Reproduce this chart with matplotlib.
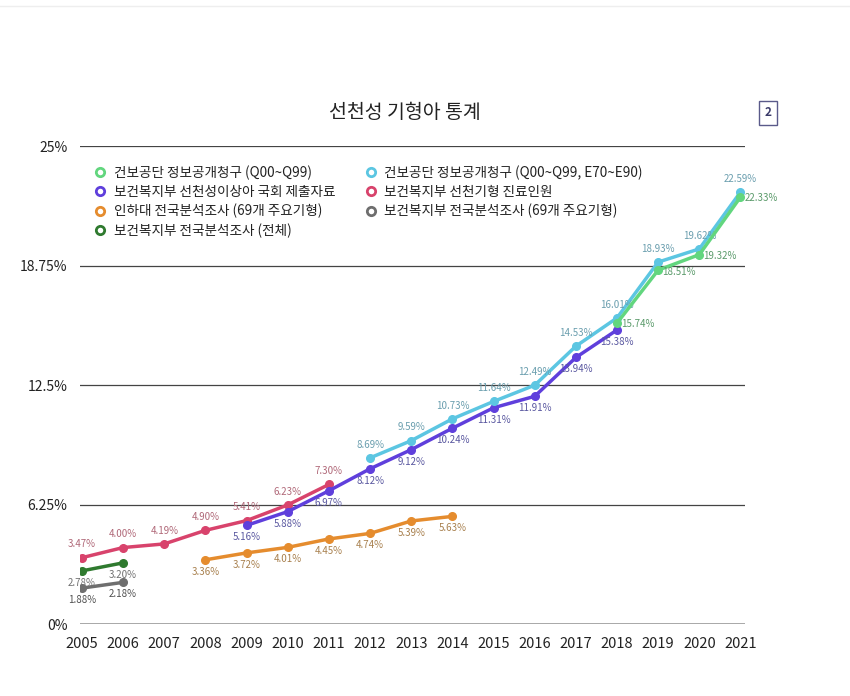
import matplotlib
matplotlib.use("Agg")
import matplotlib.pyplot as plt
from matplotlib.lines import Line2D

plt.rcParams['font.family'] = ['Noto Sans CJK KR', 'DejaVu Sans']

# series data (percent)
green_years = [2018, 2019, 2020, 2021]
green_vals = [15.74, 18.51, 19.32, 22.33]

cyan_years = list(range(2012, 2022))
cyan_vals = [8.69, 9.59, 10.73, 11.64, 12.49, 14.53, 16.01, 18.93, 19.62, 22.59]

purple_years = list(range(2009, 2019))
purple_vals = [5.16, 5.88, 6.97, 8.12, 9.12, 10.24, 11.31, 11.91, 13.94, 15.38]

red_years = list(range(2005, 2012))
red_vals = [3.47, 4.00, 4.19, 4.90, 5.41, 6.23, 7.30]

orange_years = list(range(2008, 2015))
orange_vals = [3.36, 3.72, 4.01, 4.45, 4.74, 5.39, 5.63]

gray_years = [2005, 2006]
gray_vals = [1.88, 2.18]

dkgreen_years = [2005, 2006]
dkgreen_vals = [2.78, 3.20]

names = [
    "건보공단 정보공개청구 (Q00~Q99)",
    "건보공단 정보공개청구 (Q00~Q99, E70~E90)",
    "보건복지부 선천성이상아 국회 제출자료",
    "보건복지부 선천기형 진료인원",
    "인하대 전국분석조사 (69개 주요기형)",
    "보건복지부 전국분석조사 (69개 주요기형)",
    "보건복지부 전국분석조사 (전체)",
]

fig = plt.figure(figsize=(8.5, 6.96), dpi=100)
ax = fig.add_axes([0.094, 0.1034, 0.782, 0.6868])

# (years, values, line color, label color, label position)
series = [
    (red_years, red_vals, "#d8436c", "#b06878", "above"),
    (orange_years, orange_vals, "#e58c2e", "#a8804e", "below"),
    (gray_years, gray_vals, "#6e6e6e", "#505050", "below"),
    (dkgreen_years, dkgreen_vals, "#2f7a2f", "#707070", "below"),
    (purple_years, purple_vals, "#5f3fdc", "#5a58a0", "below"),
    (cyan_years, cyan_vals, "#5cc6e2", "#6a9eae", "above"),
    (green_years, green_vals, "#62d67e", "#5a9a6a", "right"),
]

for ys, vs, c, tc, pos in series:
    ax.plot(ys, vs, color=c, lw=2.5, marker="o", ms=5.5, solid_capstyle="round", zorder=3)
    for x, v in zip(ys, vs):
        txt = f"{v:.2f}%"
        if pos == "above":
            ax.annotate(txt, (x, v), xytext=(0, 6), textcoords="offset points",
                        ha="center", va="bottom", fontsize=7, color=tc)
        elif pos == "below":
            ax.annotate(txt, (x, v), xytext=(0, -5), textcoords="offset points",
                        ha="center", va="top", fontsize=7, color=tc)
        else:
            ax.annotate(txt, (x, v), xytext=(3, -1), textcoords="offset points",
                        ha="left", va="center", fontsize=7, color=tc)

# gridlines
for g in [6.25, 12.5, 18.75, 25]:
    ax.axhline(g, color="#444444", lw=0.9, zorder=1)
ax.axhline(0, color="#999999", lw=1.2, zorder=1)

ax.set_xlim(2004.95, 2021.1)
ax.set_ylim(0, 25)
ax.set_xticks(range(2005, 2022))
ax.set_xticklabels([str(y) for y in range(2005, 2022)], fontsize=10.5, color="#222222")
ax.set_yticks([0, 6.25, 12.5, 18.75, 25])
ax.set_yticklabels(["0%", "6.25%", "12.5%", "18.75%", "25%"], fontsize=10, color="#222222")
ax.tick_params(length=0, pad=9)
for s in ax.spines.values():
    s.set_visible(False)

# legend with hollow markers
leg_colors = ["#62d67e", "#5cc6e2", "#5f3fdc", "#d8436c", "#e58c2e", "#6e6e6e", "#2f7a2f"]
handles = [Line2D([], [], ls="none", marker="o", ms=6, mfc="white", mec=c, mew=2)
           for c in leg_colors]
# order so columns read: left = 0,2,4,6 ; right = 1,3,5
order = [0, 2, 4, 6, 1, 3, 5]
leg = ax.legend([handles[i] for i in order], [names[i] for i in order],
                ncol=2, loc="upper left", bbox_to_anchor=(0.0, 0.985),
                frameon=False, fontsize=9.8, handletextpad=0.4, columnspacing=2.0,
                labelspacing=0.36, handlelength=1.2)
for t in leg.get_texts():
    t.set_color("#222222")

fig.text(405 / 850, 1 - 113 / 696, "선천성 기형아 통계", ha="center", va="center",
         fontsize=14, color="#222222")
fig.text(768 / 850, 1 - 113 / 696, "2", ha="center", va="center", fontsize=8.5,
         fontweight="bold", color="#3a3a6a",
         bbox=dict(boxstyle="square,pad=0.45", fc="white", ec="#5a5a8a", lw=1))

fig.add_artist(Line2D([0, 1], [1 - 6 / 696, 1 - 6 / 696], color="#eeeeee", lw=1))

fig.savefig("out.png", dpi=100, facecolor="white")
